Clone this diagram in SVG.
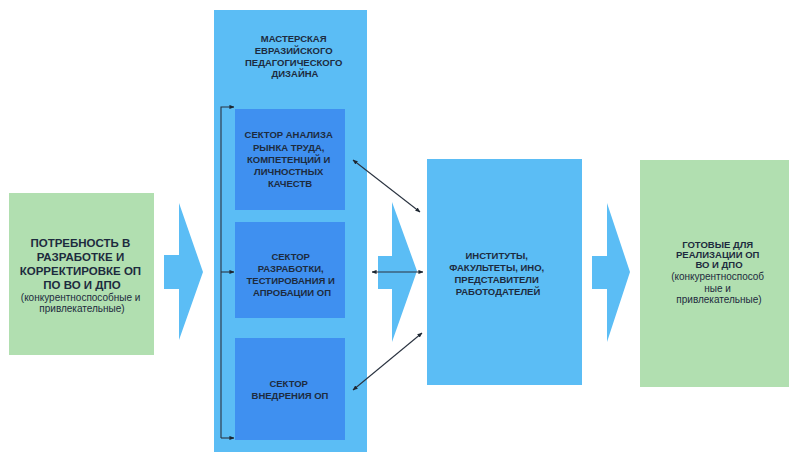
<svg xmlns="http://www.w3.org/2000/svg" width="789" height="452" viewBox="0 0 789 452">
<defs>
<style>
.green{fill:#b1dfb0}
.light{fill:#5bbdf5}
.sector{fill:#3f90f0}
.t{font-family:"Liberation Sans",Arial,sans-serif;font-weight:bold;fill:#1d2b3e;text-anchor:middle}
.s{font-family:"Liberation Sans",Arial,sans-serif;fill:#1d2b3e;text-anchor:middle}
.ln{stroke:#2a3340;stroke-width:1.1;fill:none}
</style>
<marker id="ah" viewBox="0 0 6 6" refX="5.5" refY="3" markerWidth="5" markerHeight="5" orient="auto-start-reverse" markerUnits="userSpaceOnUse">
<path d="M0,0.5 L6,3 L0,5.5 Z" fill="#1d2630"/>
</marker>
</defs>
<rect width="789" height="452" fill="#ffffff"/>

<g id="need">
<rect class="green" x="9" y="193" width="145" height="162"/>
<text class="t" font-size="11.5" font-weight="bold">
<tspan x="82" y="247">ПОТРЕБНОСТЬ В</tspan>
<tspan x="82" y="261">РАЗРАБОТКЕ И</tspan>
<tspan x="82" y="275">КОРРЕКТИРОВКЕ ОП</tspan>
<tspan x="82" y="289">ПО ВО И ДПО</tspan>
</text>
<text class="s" font-size="10">
<tspan x="82" y="301">(конкурентноспособные и</tspan>
<tspan x="82" y="312">привлекательные)</tspan>
</text>
</g>

<g id="arrow1"><path class="light" d="M164,255 H179 V203 L203,272 L179,340 V289 H164 Z"/></g>

<g id="master">
<rect class="light" x="214" y="10" width="153" height="442"/>
<text class="t" font-size="9.5">
<tspan x="295" y="42">МАСТЕРСКАЯ</tspan>
<tspan x="295" y="54">ЕВРАЗИЙСКОГО</tspan>
<tspan x="295" y="66">ПЕДАГОГИЧЕСКОГО</tspan>
<tspan x="295" y="77">ДИЗАЙНА</tspan>
</text>
</g>

<g id="sector1">
<rect class="sector" x="235" y="109" width="110" height="101"/>
<text class="t" font-size="9.5">
<tspan x="290" y="138">СЕКТОР АНАЛИЗА</tspan>
<tspan x="290" y="151">РЫНКА ТРУДА,</tspan>
<tspan x="290" y="163">КОМПЕТЕНЦИЙ И</tspan>
<tspan x="290" y="175">ЛИЧНОСТНЫХ</tspan>
<tspan x="290" y="187">КАЧЕСТВ</tspan>
</text>
</g>

<g id="sector2">
<rect class="sector" x="235" y="222" width="110" height="96"/>
<text class="t" font-size="9.5">
<tspan x="292" y="260">СЕКТОР</tspan>
<tspan x="292" y="272">РАЗРАБОТКИ,</tspan>
<tspan x="292" y="284">ТЕСТИРОВАНИЯ И</tspan>
<tspan x="292" y="296">АПРОБАЦИИ ОП</tspan>
</text>
</g>

<g id="sector3">
<rect class="sector" x="235" y="338" width="110" height="102"/>
<text class="t" font-size="9.5">
<tspan x="290" y="387">СЕКТОР</tspan>
<tspan x="290" y="399">ВНЕДРЕНИЯ ОП</tspan>
</text>
</g>

<g id="arrow2"><path class="light" d="M378,256 H392 V202 L417,271 L392,342 V289 H378 Z"/></g>

<g id="institutes">
<rect class="light" x="427" y="159" width="155" height="226"/>
<text class="t" font-size="9.5">
<tspan x="498" y="259">ИНСТИТУТЫ,</tspan>
<tspan x="498" y="271">ФАКУЛЬТЕТЫ, ИНО,</tspan>
<tspan x="498" y="283">ПРЕДСТАВИТЕЛИ</tspan>
<tspan x="498" y="295">РАБОТОДАТЕЛЕЙ</tspan>
</text>
</g>

<g id="arrow3"><path class="light" d="M592,256 H607 V203 L630,272 L607,342 V289 H592 Z"/></g>

<g id="ready">
<rect class="green" x="640" y="160" width="149" height="227"/>
<text class="t" font-size="9.5">
<tspan x="719" y="248">ГОТОВЫЕ ДЛЯ</tspan>
<tspan x="719" y="258">РЕАЛИЗАЦИИ ОП</tspan>
<tspan x="719" y="268">ВО И ДПО</tspan>
</text>
<text class="s" font-size="10">
<tspan x="719" y="280">(конкурентноспособ</tspan>
<tspan x="719" y="292">ные и</tspan>
<tspan x="719" y="303">привлекательные)</tspan>
</text>
</g>

<g id="connectors">
<path class="ln" d="M221,438 V107 H234" marker-end="url(#ah)"/>
<path class="ln" d="M221,272 H234" marker-end="url(#ah)"/>
<path class="ln" d="M221,438 H234" marker-end="url(#ah)"/>
<path class="ln" d="M353,160 L420,212" marker-start="url(#ah)" marker-end="url(#ah)"/>
<path class="ln" d="M372,272 H423" marker-start="url(#ah)" marker-end="url(#ah)"/>
<path class="ln" d="M353,390 L422,333" marker-start="url(#ah)" marker-end="url(#ah)"/>
</g>
</svg>
